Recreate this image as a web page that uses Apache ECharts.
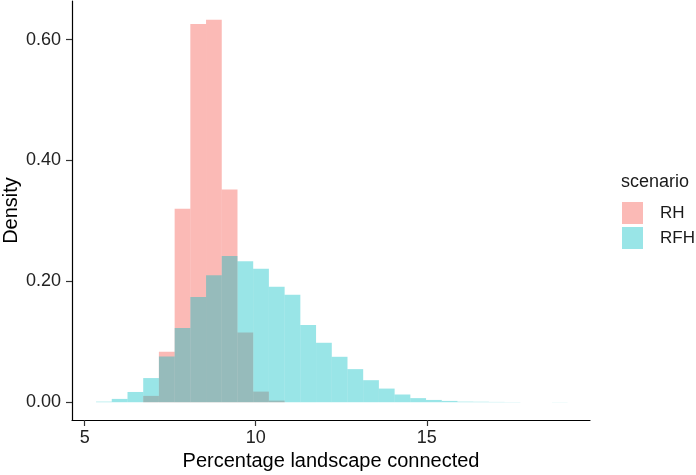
<!DOCTYPE html>
<html>
<head>
<meta charset="utf-8">
<script src="https://cdn.jsdelivr.net/npm/echarts@6/dist/echarts.min.js"></script>
<style>
  html, body { margin: 0; padding: 0; background: #fff; }
  #chart { width: 696px; height: 475px; }
</style>
</head>
<body>
<div id="chart"></div>
<script>
// histogram bin edges (30 bins, shared by both scenarios)
const binEdges = [5.333, 5.792, 6.252, 6.711, 7.170, 7.630, 8.089, 8.548, 9.007, 9.467,
  9.926, 10.385, 10.845, 11.304, 11.763, 12.223, 12.682, 13.141, 13.600, 14.060,
  14.519, 14.978, 15.438, 15.897, 16.356, 16.816, 17.275, 17.734, 18.193, 18.653, 19.112]

// density per bin
const densityRH = [0, 0, 0, 0.0105, 0.0835, 0.320, 0.626, 0.633, 0.352, 0.1155,
  0.0176, 0.0027, 0, 0, 0, 0, 0, 0, 0, 0,
  0, 0, 0, 0, 0, 0, 0, 0, 0, 0]
const densityRFH = [0.001, 0.0055, 0.017, 0.040, 0.0757, 0.123, 0.174, 0.210, 0.242, 0.2335,
  0.221, 0.191, 0.178, 0.128, 0.0984, 0.0752, 0.0548, 0.0365, 0.0226, 0.0128,
  0.0068, 0.0038, 0.0022, 0.0010, 0.0008, 0.0005, 0.0003, 0, 0, 0.0002]

const xTicks = [5, 10, 15]
const yTicks = [0, 0.2, 0.4, 0.6]

const fontFamily = '"Liberation Sans", Arial, Helvetica, sans-serif'

const toBins = (vals) => vals.map((v, i) => [binEdges[i], binEdges[i + 1], v])

const renderBin = (params, api) => {
  const start = api.coord([api.value(0), api.value(2)])
  const end = api.coord([api.value(1), 0])
  return {
    type: 'rect',
    shape: {
      x: start[0],
      y: start[1],
      width: end[0] - start[0],
      height: end[1] - start[1]
    },
    style: api.style({ stroke: null })
  }
}

const chart = echarts.init(document.getElementById('chart'))

chart.setOption({
  animation: false,
  backgroundColor: '#fff',
  textStyle: { fontFamily },
  title: {
    text: 'scenario',
    left: 621,
    top: 173,
    padding: 0,
    textStyle: { fontSize: 18, fontWeight: 'normal', color: '#1a1a1a', fontFamily }
  },
  legend: {
    orient: 'vertical',
    left: 622,
    top: 202,
    padding: 0,
    itemWidth: 21,
    itemHeight: 22,
    itemGap: 3,
    icon: 'rect',
    textStyle: { fontSize: 17, color: '#1a1a1a', padding: [0, 0, 0, 12], fontFamily },
    data: ['RH', 'RFH']
  },
  grid: {
    left: 72,
    right: 106,
    top: 1,
    bottom: 55,
    containLabel: false,
    outerBoundsMode: 'none'
  },
  xAxis: {
    type: 'value',
    min: 4.63,
    max: 19.77,
    name: 'Percentage landscape connected',
    nameLocation: 'middle',
    nameGap: 31,
    nameMoveOverlap: false,
    nameTextStyle: { fontSize: 20, color: '#000', fontFamily },
    splitLine: { show: false },
    axisLine: { onZero: false, lineStyle: { color: '#000', width: 1.2 } },
    axisTick: { customValues: xTicks, length: 6, lineStyle: { color: '#333', width: 1.2 } },
    axisLabel: { customValues: xTicks, fontSize: 18, color: '#222', margin: 9, fontFamily }
  },
  yAxis: {
    type: 'value',
    min: -0.0294,
    max: 0.664,
    name: 'Density',
    nameLocation: 'middle',
    nameGap: 51,
    nameMoveOverlap: false,
    nameTextStyle: { fontSize: 20, color: '#000', fontFamily },
    splitLine: { show: false },
    axisLine: { onZero: false, lineStyle: { color: '#000', width: 1.2 } },
    axisTick: { customValues: yTicks, length: 6, lineStyle: { color: '#333', width: 1.2 } },
    axisLabel: {
      customValues: yTicks,
      fontSize: 18,
      color: '#222',
      margin: 11,
      fontFamily,
      formatter: v => v.toFixed(2)
    }
  },
  series: [
    {
      name: 'RH',
      type: 'custom',
      renderItem: renderBin,
      encode: { x: [0, 1], y: 2 },
      itemStyle: { color: 'rgba(248, 118, 109, 0.5)' },
      data: toBins(densityRH)
    },
    {
      name: 'RFH',
      type: 'custom',
      renderItem: renderBin,
      encode: { x: [0, 1], y: 2 },
      itemStyle: { color: 'rgba(0, 191, 196, 0.4)' },
      data: toBins(densityRFH)
    }
  ]
})
</script>
</body>
</html>
